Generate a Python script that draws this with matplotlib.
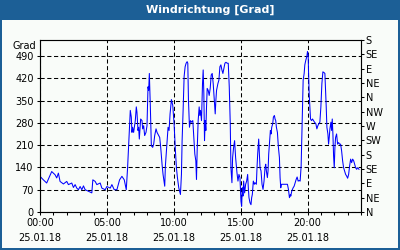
import matplotlib.pyplot as plt
from matplotlib.patches import Rectangle
from matplotlib.ticker import MultipleLocator

# Stunden seit Mitternacht (25.01.18)
stunden = [0, 0.25, 0.5, 0.875, 1.125, 1.25, 1.375, 1.5, 1.75, 2.0,
           2.125, 2.375, 2.5, 2.625, 2.75, 2.875, 3.0, 3.125, 3.25, 3.375,
           3.625, 3.875, 3.95, 4.125, 4.25, 4.5, 4.625, 4.875, 5.0, 5.25,
           5.375, 5.55, 5.75, 5.95, 6.125, 6.3, 6.45, 6.55, 6.675, 6.75,
           6.825, 6.875, 6.925, 7.0, 7.125, 7.2, 7.25, 7.325, 7.375, 7.425,
           7.525, 7.625, 7.675, 7.75, 7.825, 7.925, 8.0, 8.075, 8.125, 8.175,
           8.25, 8.325, 8.425, 8.5, 8.575, 8.675, 8.75, 8.875, 8.95, 9.025,
           9.125, 9.2, 9.325, 9.375, 9.45, 9.525, 9.575, 9.65, 9.725, 9.825,
           9.925, 10.025, 10.125, 10.2, 10.275, 10.375, 10.5, 10.575, 10.625, 10.7,
           10.775, 10.85, 10.925, 11.0, 11.05, 11.1, 11.175, 11.25, 11.325, 11.425,
           11.5, 11.575, 11.65, 11.7, 11.75, 11.825, 11.9, 11.95, 12.0, 12.075,
           12.15, 12.2, 12.25, 12.3, 12.35, 12.4, 12.45, 12.5, 12.575, 12.65,
           12.725, 12.8, 12.875, 12.95, 13.025, 13.1, 13.15, 13.2, 13.3, 13.375,
           13.45, 13.525, 13.6, 13.675, 13.75, 13.825, 13.9, 14.0, 14.075, 14.15,
           14.225, 14.275, 14.35, 14.4, 14.475, 14.55, 14.6, 14.625, 14.725, 14.8,
           14.875, 14.95, 15.025, 15.075, 15.125, 15.175, 15.225, 15.3, 15.375, 15.45,
           15.525, 15.575, 15.625, 15.7, 15.775, 15.825, 15.875, 15.95, 16.025, 16.075,
           16.175, 16.225, 16.275, 16.35, 16.4, 16.45, 16.525, 16.6, 16.675, 16.75,
           16.825, 16.875, 16.925, 17.0, 17.05, 17.1, 17.15, 17.225, 17.275, 17.325,
           17.4, 17.45, 17.525, 17.575, 17.625, 17.675, 17.75, 17.825, 17.9, 17.95,
           18.0, 18.05, 18.5, 18.575, 18.65, 18.725, 18.75, 18.825, 18.925, 19.0,
           19.075, 19.15, 19.225, 19.3, 19.375, 19.45, 19.525, 19.575, 19.625, 19.675,
           19.75, 19.8, 19.875, 19.95, 20.0, 20.05, 20.075, 20.125, 20.175, 20.225,
           20.3, 20.375, 20.45, 20.525, 20.625, 20.7, 20.775, 20.85, 20.925, 21.0,
           21.075, 21.15, 21.225, 21.3, 21.35, 21.4, 21.45, 21.525, 21.575, 21.625,
           21.675, 21.75, 21.8, 21.85, 21.9, 21.95, 22.0, 22.05, 22.1, 22.175,
           22.25, 22.325, 22.4, 22.475, 22.55, 22.625, 22.7, 22.775, 22.85, 22.925,
           23.0, 23.075, 23.15, 23.225, 23.3, 23.375, 23.45, 23.525, 23.6, 23.675,
           23.75, 23.85]

# Windrichtung in Grad
grad = [112, 101, 91, 127, 117, 107, 122, 96, 88, 96,
        86, 91, 77, 86, 75, 70, 80, 70, 82, 70,
        65, 60, 101, 96, 86, 91, 75, 70, 80, 75,
        86, 70, 70, 101, 112, 101, 70, 140, 256, 319,
        298, 250, 266, 250, 287, 330, 313, 256, 266, 229,
        292, 287, 261, 271, 240, 250, 271, 393, 382, 435,
        330, 208, 203, 213, 240, 261, 250, 240, 234, 203,
        150, 118, 81, 145, 192, 240, 266, 256, 308, 353,
        335, 277, 192, 139, 108, 76, 55, 118, 224, 319,
        425, 456, 467, 472, 467, 351, 266, 287, 282, 287,
        234, 182, 161, 102, 192, 287, 330, 303, 319, 287,
        403, 446, 372, 224, 287, 256, 330, 388, 382, 366,
        388, 430, 435, 403, 356, 308, 351, 382, 403, 414,
        456, 462, 446, 435, 451, 467, 470, 467, 467, 393,
        277, 139, 92, 171, 203, 224, 192, 171, 124, 97,
        118, 108, 34, 18, 76, 50, 97, 60, 87, 97,
        118, 76, 45, 29, 23, 45, 55, 97, 87, 92,
        87, 139, 182, 229, 182, 139, 129, 87, 71, 97,
        139, 150, 129, 108, 129, 182, 213, 256, 245, 266,
        277, 298, 303, 292, 287, 266, 250, 203, 171, 108,
        76, 87, 87, 71, 45, 55, 50, 66, 76, 81,
        92, 102, 110, 97, 99, 97, 145, 234, 330, 414,
        435, 462, 477, 488, 504, 493, 446, 372, 330, 292,
        287, 292, 287, 282, 277, 261, 271, 277, 282, 330,
        403, 440, 438, 435, 382, 330, 266, 245, 213, 234,
        261, 282, 256, 292, 245, 176, 139, 203, 234, 245,
        213, 218, 213, 213, 192, 161, 139, 129, 118, 113,
        106, 118, 145, 166, 155, 166, 161, 150, 139, 134,
        139, 134]

grad_ticks = [0, 70, 140, 210, 280, 350, 420, 490]
stunden_ticks = [0, 5, 10, 15, 20]
zeit_labels = ['00:00\n25.01.18', '05:00\n25.01.18', '10:00\n25.01.18',
               '15:00\n25.01.18', '20:00\n25.01.18']
richtungen = ['N', 'NE', 'E', 'SE', 'S', 'SW', 'W', 'NW', 'N', 'NE', 'E', 'SE', 'S']

rahmen = '#1c5f96'
hintergrund = '#f9fcf9'

plt.rcParams['font.family'] = 'DejaVu Sans'
fig = plt.figure(figsize=(4, 2.5), dpi=100, facecolor=rahmen)

# heller Innenbereich unter der Titelleiste
fig.patches.append(Rectangle((2 / 400, 2 / 250), 396 / 400, 228 / 250,
                             transform=fig.transFigure, facecolor=hintergrund,
                             edgecolor='none', zorder=-1))
fig.text(0.525, 1 - 10 / 250, 'Windrichtung [Grad]', color='white', fontsize=8,
         fontweight='bold', ha='center', va='center')

ax = fig.add_axes([0.1, 38 / 250, 321 / 400, 172 / 250])
ax.set_facecolor(hintergrund)
ax.plot(stunden, grad, color='#0000ff', linewidth=0.75)

ax.set_xlim(0, 24)
ax.set_ylim(0, 540)
ax.set_yticks(grad_ticks)
ax.set_xticks(stunden_ticks)
ax.set_xticklabels(zeit_labels, linespacing=1.6)
ax.xaxis.set_minor_locator(MultipleLocator(1))
ax.grid(True, color='black', linestyle=(0, (4, 2.5)), linewidth=0.75)
ax.tick_params(which='both', direction='out', length=2.5, width=0.75,
               labelsize=7, colors='black', pad=2)
for s in ax.spines.values():
    s.set_linewidth(0.75)

ax2 = ax.twinx()
ax2.set_ylim(0, 540)
ax2.set_yticks(range(0, 541, 45))
ax2.set_yticklabels(richtungen)
ax2.tick_params(direction='out', length=2.5, width=0.75, labelsize=7, pad=1)

fig.text(36 / 400, 1 - 46 / 250, 'Grad', fontsize=7, ha='right', va='center')

fig.savefig('out.png', dpi=100, facecolor=rahmen)
